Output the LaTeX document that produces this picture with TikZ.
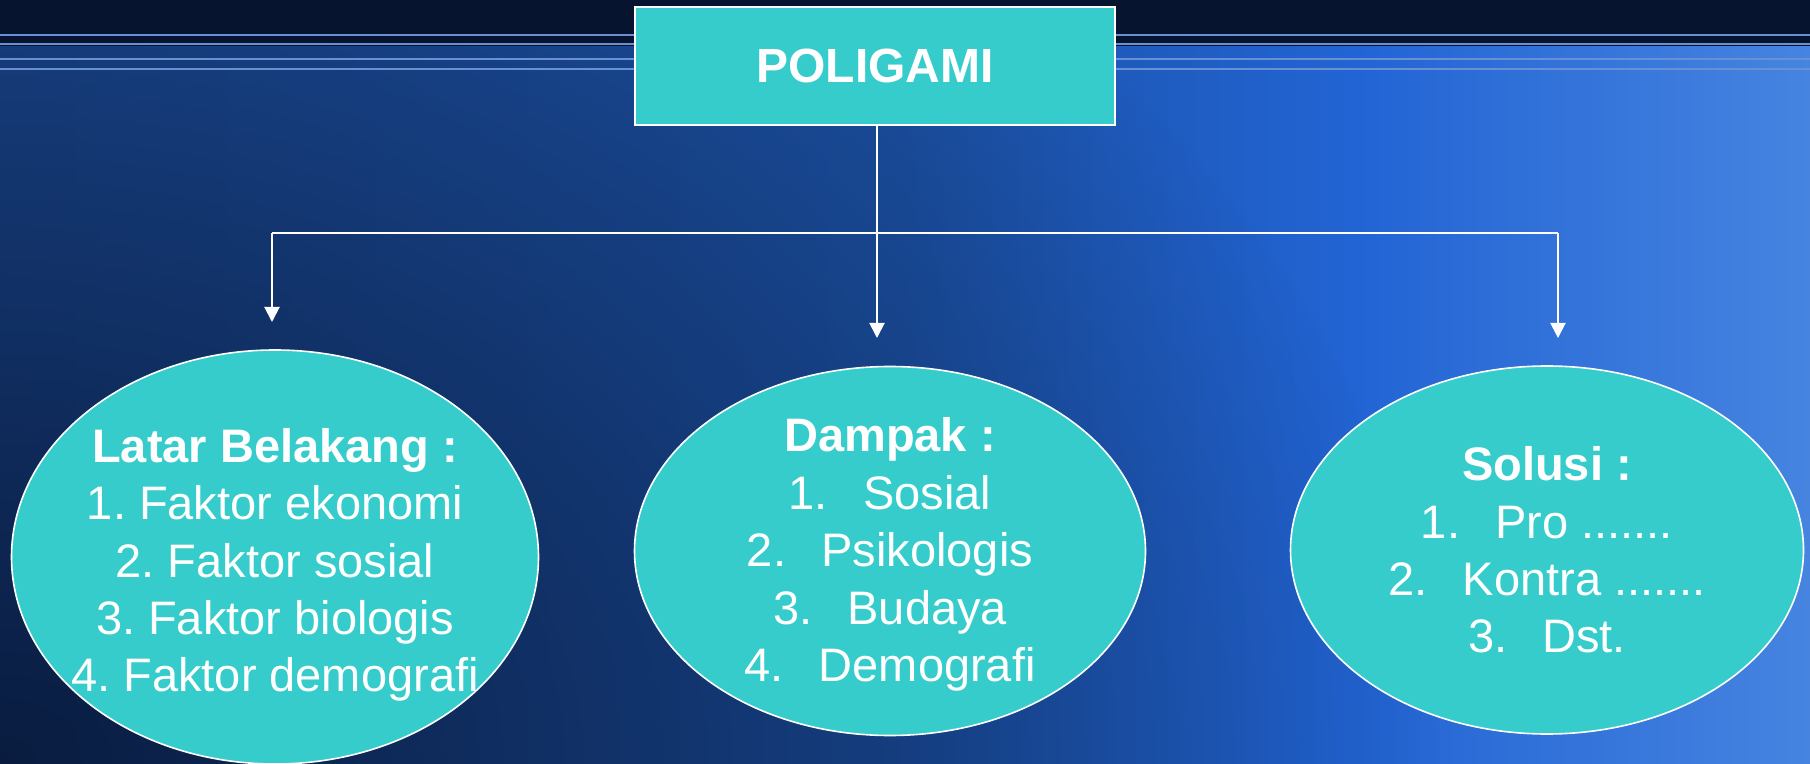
\documentclass[tikz,border=0pt]{standalone}
\usepackage{fontspec}
\setmainfont{Liberation Sans}
\usepackage{tikz}
\usetikzlibrary{arrows.meta,positioning,shapes.geometric,fadings,calc}

\definecolor{topdark}{HTML}{061430}
\definecolor{bgA}{HTML}{1C4C98}
\definecolor{bgB}{HTML}{1C52A6}
\definecolor{bgC}{HTML}{2264D4}
\definecolor{bgD}{HTML}{4684E0}
\definecolor{cornerdark}{HTML}{081838}
\definecolor{stripe}{HTML}{6A90D4}
\definecolor{tosca}{HTML}{36CCCC}

\pgfdeclarehorizontalshading{bgband}{100bp}{color(0bp)=(bgA); color(25bp)=(bgA); color(50bp)=(bgB); color(62.5bp)=(bgC); color(75bp)=(bgD); color(100bp)=(bgD)}
\tikzfading[name=cornerfade, inner color=transparent!8, outer color=transparent!100]

\tikzset{
  box/.style={rectangle, draw=white, line width=1pt, fill=tosca, text=white,
    minimum width=240pt, minimum height=59pt, font=\fontsize{24}{28}\selectfont\bfseries},
  bubble/.style={ellipse, draw=white, line width=0.8pt, fill=tosca, inner sep=0pt},
  bubtext/.style={align=center, text=white, inner sep=0pt, font=\fontsize{23.5}{28.7}\selectfont\frenchspacing},
  link/.style={draw=white, line width=1pt},
}

\begin{document}
\begin{tikzpicture}[x=0.5pt,y=-0.5pt,>={Triangle[width=7.5pt,length=7.5pt]}]
\useasboundingbox (0,0) rectangle (1810,764);
\shade[shading=bgband] (0,0) rectangle (1810,764);
\fill[cornerdark, path fading=cornerfade] (0,764) ellipse (1450 and 1100);
\fill[topdark] (0,0) rectangle (1810,46);
\foreach \y in {35,44,59,69}
  \draw[stripe, line width=1.4pt] (0,\y) -- (1810,\y);

\node[box] at (875,66) (poli) {POLIGAMI};

\node[bubble, minimum width=263.5pt, minimum height=207pt] at (275,557) (latar) {};
\node[bubtext] at ([yshift=-4pt]latar.center) (latartxt) {\textbf{Latar Belakang :}\\1. Faktor ekonomi\\2. Faktor sosial\\3. Faktor biologis\\4. Faktor demografi};

\node[bubble, minimum width=255.5pt, minimum height=184.5pt] at (890,551) (dampak) {};
\node[bubtext] at ([yshift=-1.75pt]dampak.center) (dampaktxt) {\textbf{Dampak :}\\1.\hspace{0.75em}Sosial\\2.\hspace{0.75em}Psikologis\\3.\hspace{0.75em}Budaya\\4.\hspace{0.75em}Demografi};

\node[bubble, minimum width=256.5pt, minimum height=184pt] at (1547,550) (solusi) {};
\node[bubtext] at (solusi.center) (solusitxt) {\textbf{Solusi :}\\1.\hspace{0.75em}Pro .......\\2.\hspace{0.75em}Kontra .......\\3.\hspace{0.75em}Dst.};

\coordinate (hub) at (877,233);
\coordinate (busL) at (272,233);
\coordinate (busR) at (1558,233);
\coordinate (tipL) at (272,322);
\coordinate (tipM) at (877,338);
\coordinate (tipR) at (1558,338);

\draw[link] (poli.south -| hub) -- (hub);
\draw[link] (busL) -- (busR);
\draw[link,->] (busL) -- (tipL);
\draw[link,->] (hub) -- (tipM);
\draw[link,->] (busR) -- (tipR);
\end{tikzpicture}
\end{document}
